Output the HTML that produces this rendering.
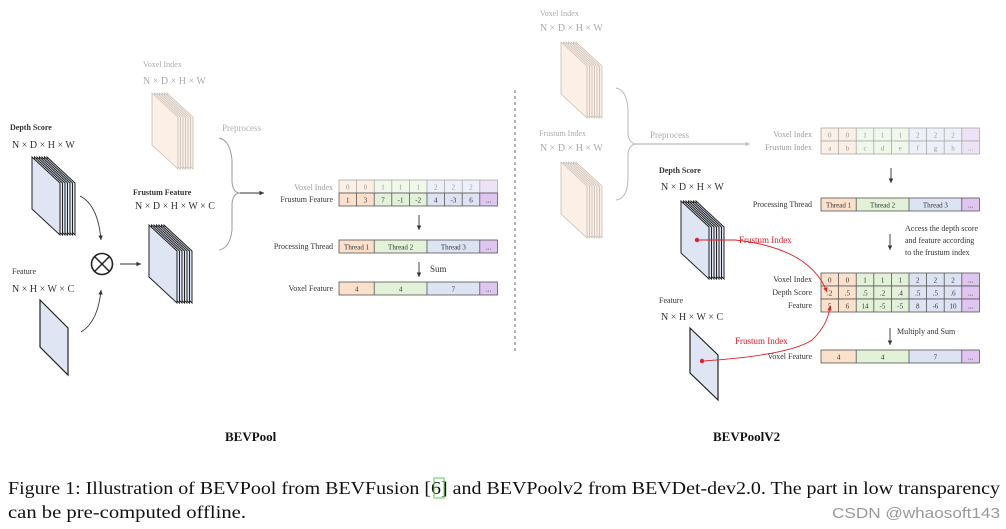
<!DOCTYPE html>
<html><head><meta charset="utf-8"><style>
html,body{margin:0;padding:0;background:#fff;}
svg{display:block;}
.c{font-size:7px;text-anchor:middle;fill:#333;}
.l{font-size:8px;text-anchor:end;fill:#333;}
.f{opacity:.5}
</style></head><body>
<svg width="1006" height="529" viewBox="0 0 1006 529" xmlns="http://www.w3.org/2000/svg" font-family="Liberation Serif, serif">
<defs>
<marker id="ah" markerWidth="6" markerHeight="6" refX="5" refY="3" orient="auto"><path d="M0,0.5 L5,3 L0,5.5z" fill="#333"/></marker>
<marker id="ahg" markerWidth="6" markerHeight="6" refX="5" refY="3" orient="auto"><path d="M0,0.5 L5,3 L0,5.5z" fill="#888"/></marker>
<marker id="ahr" markerWidth="6" markerHeight="6" refX="5" refY="3" orient="auto"><path d="M0,0.5 L5,3 L0,5.5z" fill="#e0202a"/></marker>
<polygon id="sb" points="0,0 28,26 28,78 0,52" fill="#dfe5f3" stroke="#222" stroke-width="1"/>
<polygon id="so" points="0,0 26,24 26,76 0,52" fill="#fbe1cc" stroke="#8a7b70" stroke-width="0.8"/>
<g id="stackB">
<use href="#sb" x="15" y="0"/><use href="#sb" x="12.5" y="0"/><use href="#sb" x="10" y="0"/><use href="#sb" x="7.5" y="0"/><use href="#sb" x="5" y="0"/><use href="#sb" x="2.5" y="0"/><use href="#sb" x="0" y="0"/>
</g>
<g id="stackO">
<use href="#so" x="15" y="0"/><use href="#so" x="12.5" y="0"/><use href="#so" x="10" y="0"/><use href="#so" x="7.5" y="0"/><use href="#so" x="5" y="0"/><use href="#so" x="2.5" y="0"/><use href="#so" x="0" y="0"/>
</g>
<g id="cells">
<rect x="0" y="0" width="17.6" height="13" fill="#fbe1cc"/><rect x="17.6" y="0" width="17.6" height="13" fill="#fbe1cc"/>
<rect x="35.2" y="0" width="52.8" height="13" fill="#e2f1d8"/>
<rect x="88" y="0" width="52.8" height="13" fill="#dde3f3"/>
<rect x="140.8" y="0" width="17.6" height="13" fill="#dfc6f0"/>
<g stroke="#555" stroke-width="0.8" fill="none"><rect x="0" y="0" width="158.4" height="13"/>
<path d="M17.6,0v13M35.2,0v13M52.8,0v13M70.4,0v13M88,0v13M105.6,0v13M123.2,0v13M140.8,0v13"/></g>
</g>
<g id="thr">
<rect x="0" y="0" width="35.2" height="13" fill="#fbe1cc"/>
<rect x="35.2" y="0" width="52.8" height="13" fill="#e2f1d8"/>
<rect x="88" y="0" width="52.8" height="13" fill="#dde3f3"/>
<rect x="140.8" y="0" width="17.6" height="13" fill="#dfc6f0"/>
<g stroke="#555" stroke-width="0.8" fill="none"><rect x="0" y="0" width="158.4" height="13"/>
<path d="M35.2,0v13M88,0v13M140.8,0v13"/></g>
</g>
</defs>

<!-- ============ LEFT: BEVPool ============ -->
<g class="f">
<text x="143" y="67" font-size="8" fill="#555">Voxel Index</text>
<text x="143" y="84" font-size="10" fill="#555">N × D × H × W</text>
<use href="#stackO" x="152" y="93"/>
<text x="222" y="131" font-size="9" fill="#666">Preprocess</text>
</g>
<text x="10" y="130" font-size="8" font-weight="bold" fill="#333">Depth Score</text>
<text x="12" y="148" font-size="10" fill="#333">N × D × H × W</text>
<use href="#stackB" x="32" y="157"/>
<text x="12" y="274" font-size="8" fill="#333">Feature</text>
<text x="12" y="292" font-size="10" fill="#333">N × H × W × C</text>
<polygon points="40,300 68,328 68,375 40,347" fill="#dfe5f3" stroke="#222" stroke-width="1.2"/>
<circle cx="102" cy="264" r="10.5" fill="none" stroke="#222" stroke-width="1.6"/>
<path d="M95,257L109,271M109,257L95,271" stroke="#222" stroke-width="1.5"/>
<path d="M80,196 Q98,205 101,240" fill="none" stroke="#333" stroke-width="0.9" marker-end="url(#ah)"/>
<path d="M81,332 Q98,322 101,290" fill="none" stroke="#333" stroke-width="0.9" marker-end="url(#ah)"/>
<path d="M120,264 L141,264" stroke="#333" stroke-width="0.9" marker-end="url(#ah)"/>
<text x="133" y="195" font-size="8" font-weight="bold" fill="#333">Frustum Feature</text>
<text x="135" y="209" font-size="10" fill="#333">N × D × H × W × C</text>
<use href="#stackB" x="149" y="225"/>
<path d="M219,138 Q230,140 232,160 L232,182 Q233,193 240,193 Q233,193 232,204 L232,230 Q230,248 219,250" fill="none" stroke="#999" stroke-width="1"/>
<path d="M240,193 L264,193" stroke="#333" stroke-width="0.9" marker-end="url(#ah)"/>
<g class="f"><text class="l" x="333" y="190">Voxel Index</text>
<use href="#cells" x="339" y="180"/>
<text class="c" x="347.8" y="189.5">0</text><text class="c" x="365.4" y="189.5">0</text><text class="c" x="383" y="189.5">1</text><text class="c" x="400.6" y="189.5">1</text><text class="c" x="418.2" y="189.5">1</text><text class="c" x="435.8" y="189.5">2</text><text class="c" x="453.4" y="189.5">2</text><text class="c" x="471" y="189.5">2</text></g>
<text class="l" x="333" y="202">Frustum Feature</text>
<use href="#cells" x="339" y="193"/>
<text class="c" x="347.8" y="202.5">1</text><text class="c" x="365.4" y="202.5">3</text><text class="c" x="383" y="202.5">7</text><text class="c" x="400.6" y="202.5">-1</text><text class="c" x="418.2" y="202.5">-2</text><text class="c" x="435.8" y="202.5">4</text><text class="c" x="453.4" y="202.5">-3</text><text class="c" x="471" y="202.5">6</text><text class="c" x="488.6" y="202.5">...</text>
<path d="M419,215 L419,230" stroke="#333" stroke-width="0.9" marker-end="url(#ah)"/>
<text class="l" x="333" y="249">Processing Thread</text>
<use href="#thr" x="339" y="240"/>
<text class="c" x="356.6" y="249.5">Thread 1</text><text class="c" x="400.6" y="249.5">Thread 2</text><text class="c" x="453.4" y="249.5">Thread 3</text><text class="c" x="488.6" y="249.5">...</text>
<path d="M419,262 L419,277" stroke="#333" stroke-width="0.9" marker-end="url(#ah)"/>
<text x="430" y="272" font-size="9" fill="#333">Sum</text>
<text class="l" x="333" y="291">Voxel Feature</text>
<use href="#thr" x="339" y="282"/>
<text class="c" x="356.6" y="291.5">4</text><text class="c" x="400.6" y="291.5">4</text><text class="c" x="453.4" y="291.5">7</text><text class="c" x="488.6" y="291.5">...</text>

<line x1="515" y1="90" x2="515" y2="352" stroke="#555" stroke-width="0.9" stroke-dasharray="3,3"/>

<!-- ============ RIGHT: BEVPoolV2 ============ -->
<g class="f">
<text x="540" y="16" font-size="8" fill="#555">Voxel Index</text>
<text x="540" y="31" font-size="10" fill="#555">N × D × H × W</text>
<use href="#stackO" x="561" y="42"/>
<text x="539" y="136" font-size="8" fill="#555">Frustum Index</text>
<text x="540" y="151" font-size="10" fill="#555">N × D × H × W</text>
<use href="#stackO" x="561" y="162"/>
<path d="M616,88 Q627,90 628,110 L628,134 Q629,144 637,144 Q629,144 628,154 L628,180 Q627,199 616,200" fill="none" stroke="#777" stroke-width="1"/>
<path d="M637,144 L750,144" stroke="#555" stroke-width="0.9" marker-end="url(#ahg)"/>
<text x="650" y="138" font-size="9" fill="#555">Preprocess</text>
<text class="l" x="812" y="137">Voxel Index</text>
<use href="#cells" x="821" y="128"/>
<text class="c" x="829.8" y="137.5">0</text><text class="c" x="847.4" y="137.5">0</text><text class="c" x="865" y="137.5">1</text><text class="c" x="882.6" y="137.5">1</text><text class="c" x="900.2" y="137.5">1</text><text class="c" x="917.8" y="137.5">2</text><text class="c" x="935.4" y="137.5">2</text><text class="c" x="953" y="137.5">2</text>
<text class="l" x="812" y="150">Frustum Index</text>
<use href="#cells" x="821" y="141"/>
<text class="c" x="829.8" y="150.5">a</text><text class="c" x="847.4" y="150.5">b</text><text class="c" x="865" y="150.5">c</text><text class="c" x="882.6" y="150.5">d</text><text class="c" x="900.2" y="150.5">e</text><text class="c" x="917.8" y="150.5">f</text><text class="c" x="935.4" y="150.5">g</text><text class="c" x="953" y="150.5">h</text><text class="c" x="970.6" y="150.5">...</text>
</g>
<path d="M891,168 L891,183" stroke="#333" stroke-width="0.9" marker-end="url(#ah)"/>
<text class="l" x="812" y="207">Processing Thread</text>
<use href="#thr" x="821" y="198"/>
<text class="c" x="838.6" y="207.5">Thread 1</text><text class="c" x="882.6" y="207.5">Thread 2</text><text class="c" x="935.4" y="207.5">Thread 3</text><text class="c" x="970.6" y="207.5">...</text>
<path d="M890,234 L890,250" stroke="#333" stroke-width="0.9" marker-end="url(#ah)"/>
<text x="905" y="231" font-size="8" fill="#333">Access the depth score</text>
<text x="905" y="243" font-size="8" fill="#333">and feature according</text>
<text x="905" y="255" font-size="8" fill="#333">to the frustum index</text>

<text x="659" y="173" font-size="8" font-weight="bold" fill="#333">Depth Score</text>
<text x="661" y="190" font-size="10" fill="#333">N × D × H × W</text>
<use href="#stackB" x="681" y="201"/>
<circle cx="697" cy="240" r="2.2" fill="#e0202a"/>
<text x="659" y="303" font-size="8" fill="#333">Feature</text>
<text x="661" y="320" font-size="10" fill="#333">N × H × W × C</text>
<polygon points="690,328 718,355 718,400 690,373" fill="#dfe5f3" stroke="#222" stroke-width="1.2"/>
<circle cx="702" cy="361" r="2.2" fill="#e0202a"/>

<text class="l" x="812" y="282">Voxel Index</text>
<use href="#cells" x="821" y="273"/>
<text class="c" x="829.8" y="282.5">0</text><text class="c" x="847.4" y="282.5">0</text><text class="c" x="865" y="282.5">1</text><text class="c" x="882.6" y="282.5">1</text><text class="c" x="900.2" y="282.5">1</text><text class="c" x="917.8" y="282.5">2</text><text class="c" x="935.4" y="282.5">2</text><text class="c" x="953" y="282.5">2</text><text class="c" x="970.6" y="282.5">...</text>
<text class="l" x="812" y="295">Depth Score</text>
<use href="#cells" x="821" y="286"/>
<text class="c" x="829.8" y="295.5">.2</text><text class="c" x="847.4" y="295.5">.5</text><text class="c" x="865" y="295.5">.5</text><text class="c" x="882.6" y="295.5">.2</text><text class="c" x="900.2" y="295.5">.4</text><text class="c" x="917.8" y="295.5">.5</text><text class="c" x="935.4" y="295.5">.5</text><text class="c" x="953" y="295.5">.6</text><text class="c" x="970.6" y="295.5">...</text>
<text class="l" x="812" y="308">Feature</text>
<use href="#cells" x="821" y="299"/>
<text class="c" x="829.8" y="308.5">5</text><text class="c" x="847.4" y="308.5">6</text><text class="c" x="865" y="308.5">14</text><text class="c" x="882.6" y="308.5">-5</text><text class="c" x="900.2" y="308.5">-5</text><text class="c" x="917.8" y="308.5">8</text><text class="c" x="935.4" y="308.5">-6</text><text class="c" x="953" y="308.5">10</text><text class="c" x="970.6" y="308.5">...</text>

<path d="M699,240 L735,240 Q810,248 827,292" fill="none" stroke="#e0202a" stroke-width="0.9" marker-end="url(#ahr)"/>
<text x="739" y="243" font-size="9" fill="#e0202a">Frustum Index</text>
<path d="M704,361 Q790,355 812,340 Q828,325 830,306" fill="none" stroke="#e0202a" stroke-width="0.9" marker-end="url(#ahr)"/>
<text x="735" y="344" font-size="9" fill="#e0202a">Frustum Index</text>

<path d="M890,328 L890,345" stroke="#333" stroke-width="0.9" marker-end="url(#ah)"/>
<text x="897" y="334" font-size="8" fill="#333">Multiply and Sum</text>
<text class="l" x="812" y="359">Voxel Feature</text>
<use href="#thr" x="821" y="350"/>
<text class="c" x="838.6" y="359.5">4</text><text class="c" x="882.6" y="359.5">4</text><text class="c" x="935.4" y="359.5">7</text><text class="c" x="970.6" y="359.5">...</text>

<!-- titles & caption -->
<text x="225" y="441" font-size="13" font-weight="bold" fill="#111">BEVPool</text>
<text x="713" y="441" font-size="13" font-weight="bold" fill="#111">BEVPoolV2</text>
<text x="8" y="494" font-size="18" fill="#111" textLength="992" lengthAdjust="spacingAndGlyphs">Figure 1: Illustration of BEVPool from BEVFusion [6] and BEVPoolv2 from BEVDet-dev2.0. The part in low transparency</text>
<rect x="434" y="478" width="10" height="20" fill="none" stroke="#5c5" stroke-width="1"/>
<text x="8" y="518" font-size="18" fill="#111" textLength="238" lengthAdjust="spacingAndGlyphs">can be pre-computed offline.</text>
<text x="832" y="518" font-size="15" fill="#999" style="font-family:'Liberation Sans',sans-serif" textLength="168" lengthAdjust="spacingAndGlyphs">CSDN @whaosoft143</text>
</svg>
</body></html>
